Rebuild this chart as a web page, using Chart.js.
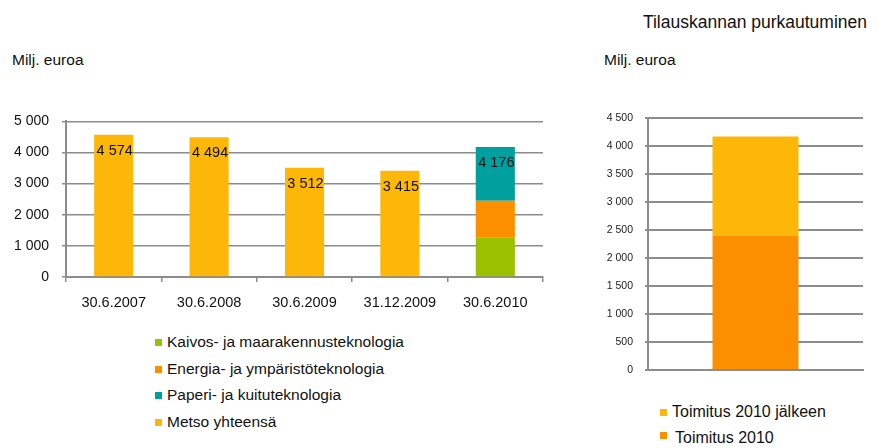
<!DOCTYPE html>
<html>
<head>
<meta charset="utf-8">
<script src="https://cdn.jsdelivr.net/npm/chart.js@4"></script>
<style>
  body { margin: 0; background: #fff; font-family: "Liberation Sans", Arial, sans-serif; color: #111; }
  #wrap { position: relative; width: 877px; height: 448px; overflow: hidden; }
  .txt { position: absolute; white-space: nowrap; }
  canvas { position: absolute; }
  .legend { position: absolute; }
  .legend div { position: relative; padding-left: 12px; }
  .legend span { position: absolute; left: 0; width: 7px; height: 7px; }
  #legLeft { font-size: 15.5px; }
  #legLeft div { height: 26.7px; line-height: 26.7px; }
  #legLeft span { top: 10px; }
  #legRight { font-size: 16px; }
  #legRight div { height: 26px; line-height: 26px; }
  #legRight span { top: 10px; }
  #legRight div + div { padding-left: 15px; }
  #legRight div + div span { top: 7px; }
</style>
</head>
<body>
<div id="wrap">
  <div class="txt" style="left:12px; top:51px; font-size:15.5px;">Milj. euroa</div>
  <div class="txt" style="left:604px; top:51px; font-size:15.5px;">Milj. euroa</div>
  <div class="txt" style="right:10px; top:12px; font-size:17.5px;">Tilauskannan purkautuminen</div>
  <canvas id="left" width="560" height="220" style="left:0; top:100px;"></canvas>
  <canvas id="right" width="297" height="290" style="left:580px; top:100px;"></canvas>
  <div id="legLeft" class="legend" style="left:155px; top:329px;"></div>
  <div id="legRight" class="legend" style="left:660px; top:399px;"></div>
</div>
<script>
// Tilauskanta, milj. euroa
const dates = ['30.6.2007', '30.6.2008', '30.6.2009', '31.12.2009', '30.6.2010']
const kaivos = [null, null, null, null, 1280]
const energia = [null, null, null, null, 1170]
const paperi = [null, null, null, null, 1726]
const metso = [4574, 4494, 3512, 3415, null]

// Tilauskannan purkautuminen 30.6.2010
const purkuLabel = ['']
const toimitus2010 = [2400]
const toimitusJalkeen = [1776]

const FONT = '"Liberation Sans", Arial, sans-serif'
const GRID = '#8c8c8c'

const fmt = (v) => String(v).replace(/\B(?=(\d{3})+(?!\d))/g, ' ')

const totalsLabels = {
  id: 'totalsLabels',
  afterDatasetsDraw(chart) {
    const ctx = chart.ctx
    const ys = chart.scales.y
    const xs = chart.scales.x
    ctx.save()
    ctx.font = '14.5px ' + FONT
    ctx.fillStyle = '#111'
    ctx.textAlign = 'center'
    ctx.textBaseline = 'middle'
    chart.data.labels.forEach((l, i) => {
      let total = 0
      chart.data.datasets.forEach((ds) => { total += ds.data[i] || 0 })
      const y = ys.getPixelForValue(total) + 16
      ctx.fillText(fmt(total), xs.getPixelForValue(i) + 1, y)
    })
    ctx.restore()
  }
}

const leftChart = new Chart(document.getElementById('left').getContext('2d'), {
  type: 'bar',
  data: {
    labels: dates,
    datasets: [
      { label: 'Kaivos- ja maarakennusteknologia', data: kaivos, backgroundColor: '#9bc000' },
      { label: 'Energia- ja ympäristöteknologia', data: energia, backgroundColor: '#fb8f00' },
      { label: 'Paperi- ja kuituteknologia', data: paperi, backgroundColor: '#00a09e' },
      { label: 'Metso yhteensä', data: metso, backgroundColor: '#fdb708' },
    ],
  },
  options: {
    responsive: false,
    animation: false,
    categoryPercentage: 1,
    barPercentage: 0.41,
    layout: { padding: { top: 20, right: 17, left: 0, bottom: 0 } },
    plugins: { legend: { display: false }, tooltip: { enabled: false } },
    scales: {
      x: {
        stacked: true,
        afterFit(scale) { scale.height = 43 },
        border: { color: GRID, width: 2 },
        grid: { drawOnChartArea: false, drawTicks: true, tickLength: 5, color: GRID, lineWidth: 1.5 },
        ticks: { color: '#111', font: { family: FONT, size: 14.5 }, padding: 12 },
      },
      y: {
        stacked: true,
        min: 0,
        max: 5000,
        afterFit(scale) { scale.width = 66 },
        border: { color: GRID, width: 2 },
        grid: { color: GRID, lineWidth: 1.5, tickLength: 4 },
        ticks: { stepSize: 1000, color: '#111', font: { family: FONT, size: 14 }, padding: 13, callback: (v) => fmt(v) },
      },
    },
  },
  plugins: [totalsLabels],
})

const rightChart = new Chart(document.getElementById('right').getContext('2d'), {
  type: 'bar',
  data: {
    labels: purkuLabel,
    datasets: [
      { label: 'Toimitus 2010', data: toimitus2010, backgroundColor: '#fb8f00' },
      { label: 'Toimitus 2010 jälkeen', data: toimitusJalkeen, backgroundColor: '#fdb708' },
    ],
  },
  options: {
    responsive: false,
    animation: false,
    categoryPercentage: 1,
    barPercentage: 0.4,
    layout: { padding: { top: 15, right: 14, left: 0, bottom: 0 } },
    plugins: { legend: { display: false }, tooltip: { enabled: false } },
    scales: {
      x: {
        stacked: true,
        afterFit(scale) { scale.height = 20 },
        border: { color: GRID, width: 2 },
        grid: { display: false },
        ticks: { display: false },
      },
      y: {
        stacked: true,
        min: 0,
        max: 4500,
        afterFit(scale) { scale.width = 68 },
        border: { color: GRID, width: 2 },
        grid: { color: GRID, lineWidth: 2, tickLength: 3 },
        ticks: { stepSize: 500, color: '#222', font: { family: FONT, size: 10.5 }, padding: 12, callback: (v) => fmt(v) },
      },
    },
  },
})

// HTML-legendat datasetien pohjalta
function buildLegend(el, datasets) {
  el.innerHTML = datasets.map((ds) =>
    `<div><span style="background:${ds.backgroundColor}"></span>${ds.label}</div>`).join('')
}
buildLegend(document.getElementById('legLeft'), leftChart.data.datasets)
buildLegend(document.getElementById('legRight'), rightChart.data.datasets.slice().reverse())
</script>
</body>
</html>
